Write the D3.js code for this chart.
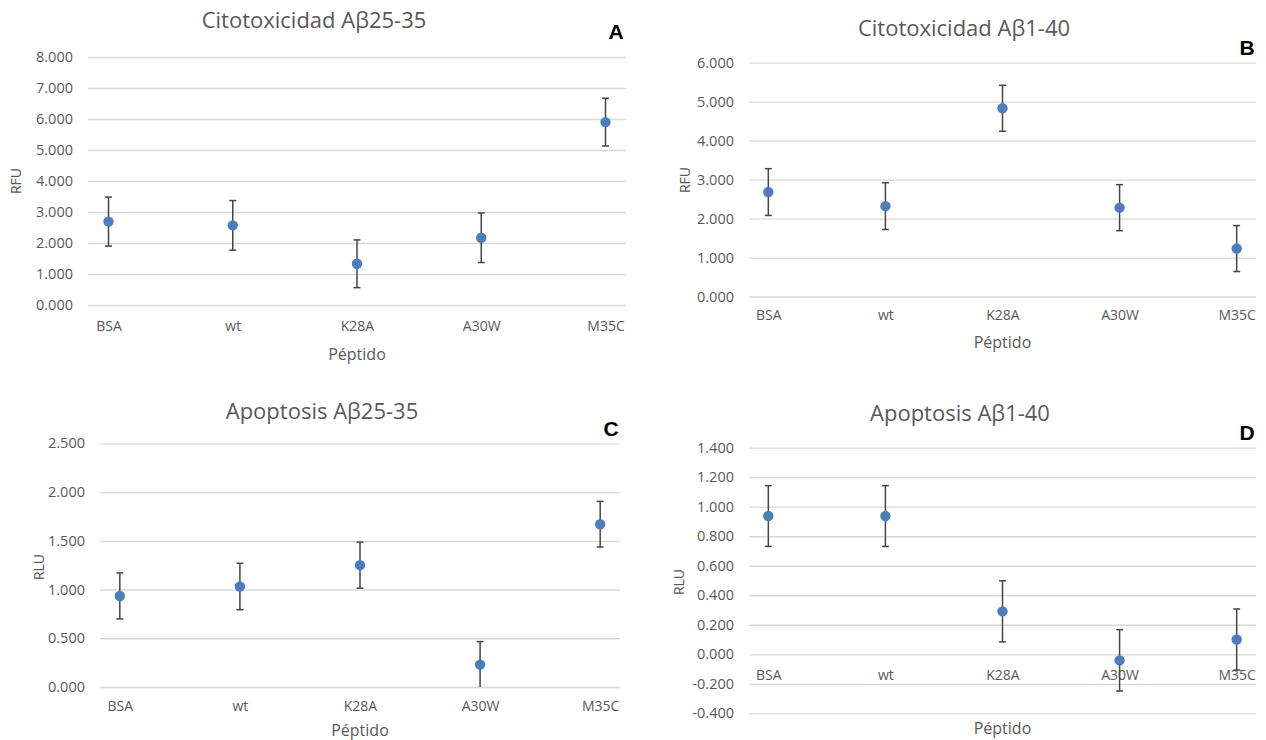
<!DOCTYPE html>
<html>
<head>
<meta charset="utf-8">
<script src="https://cdn.jsdelivr.net/npm/d3@7"></script>
<style>
  body { margin: 0; background: #fff; }
  svg { display: block; font-family: "Open Sans", sans-serif; }
</style>
</head>
<body>
<div id="fig"></div>
<script>
// categories shared by all four panels
var peptides = ["BSA", "wt", "K28A", "A30W", "M35C"];

// A - Citotoxicidad Ab25-35 (RFU)
var citoA = [2.69, 2.57, 1.33, 2.17, 5.90];
var citoAErr = [0.79, 0.80, 0.77, 0.80, 0.77];
// B - Citotoxicidad Ab1-40 (RFU)
var citoB = [2.68, 2.32, 4.83, 2.28, 1.23];
var citoBErr = [0.60, 0.60, 0.59, 0.59, 0.59];
// C - Apoptosis Ab25-35 (RLU)
var apoC = [0.934, 1.031, 1.250, 0.230, 1.670];
var apoCErr = [0.236, 0.238, 0.236, 0.236, 0.234];
// D - Apoptosis Ab1-40 (RLU)
var apoD = [0.937, 0.937, 0.291, -0.041, 0.100];
var apoDErr = [0.206, 0.206, 0.207, 0.208, 0.207];

var width = 1266, height = 740;
var svg = d3.select("#fig").append("svg")
    .attr("width", width)
    .attr("height", height);

var loc = d3.formatLocale({decimal: ".", thousands: ",", grouping: [3], currency: ["", ""], minus: "-"});
var fmt = loc.format(".3f");

var textCol = "#595959";
var dotCol = "#4a7ebf";
var errCol = "#454545";

function panel(cfg) {
    var g = svg.append("g");

    var x = d3.scalePoint()
        .domain(peptides)
        .range([cfg.x0, cfg.x1])
        .padding(0.165);
    var y = d3.scaleLinear()
        .domain(cfg.domain)
        .range([cfg.yBottom, cfg.yTop]);

    var ticks = d3.range(cfg.domain[0], cfg.domain[1] + cfg.step / 2, cfg.step);

    // gridlines + tick labels
    var yAxis = d3.axisLeft(y)
        .tickValues(ticks)
        .tickSize(-(cfg.x1 - cfg.x0))
        .tickPadding(15)
        .tickFormat(fmt);
    var ga = g.append("g")
        .attr("transform", "translate(" + cfg.x0 + ",0)")
        .call(yAxis);
    ga.select(".domain").remove();
    ga.selectAll(".tick line").attr("stroke", "#d9d9d9").attr("stroke-width", 1.3);
    ga.selectAll(".tick text")
        .attr("fill", textCol)
        .style("font-size", "14.5px")
        .style("font-family", "'Open Sans', sans-serif");

    var xAxis = d3.axisBottom(x).tickSize(0).tickPadding(cfg.xPad);
    var gx = g.append("g")
        .attr("transform", "translate(0," + y(0) + ")")
        .call(xAxis);
    gx.select(".domain").remove();
    gx.selectAll(".tick text")
        .attr("fill", textCol)
        .style("font-size", "14px")
        .style("font-family", "'Open Sans', sans-serif");

    var rows = peptides.map(function(p, i) {
        return {p: p, v: cfg.values[i], e: cfg.errs[i]};
    });

    var lo = cfg.domain[0], hi = cfg.domain[1];
    function clamp(v) { return Math.max(lo, Math.min(hi, v)); }

    // error bars
    var eb = g.append("g").selectAll("g")
        .data(rows)
        .enter().append("g")
        .attr("stroke", errCol)
        .attr("stroke-width", 1.5);
    eb.append("line")
        .attr("x1", d => x(d.p)).attr("x2", d => x(d.p))
        .attr("y1", d => y(clamp(d.v + d.e)))
        .attr("y2", d => y(clamp(d.v - d.e)));
    eb.append("line")
        .attr("x1", d => x(d.p) - 3.5).attr("x2", d => x(d.p) + 3.5)
        .attr("y1", d => y(d.v + d.e)).attr("y2", d => y(d.v + d.e));
    eb.filter(d => d.v - d.e >= lo).append("line")
        .attr("x1", d => x(d.p) - 3.5).attr("x2", d => x(d.p) + 3.5)
        .attr("y1", d => y(d.v - d.e)).attr("y2", d => y(d.v - d.e));

    g.append("g").selectAll("circle")
        .data(rows)
        .enter().append("circle")
        .attr("cx", d => x(d.p))
        .attr("cy", d => y(d.v))
        .attr("r", 5.2)
        .attr("fill", dotCol);

    // titles
    g.append("text")
        .attr("x", cfg.titleX).attr("y", cfg.titleY)
        .attr("text-anchor", "middle")
        .attr("dy", "0.35em")
        .attr("fill", textCol)
        .style("font-size", "22px")
        .text(cfg.title);

    g.append("text")
        .attr("x", cfg.letterX).attr("y", cfg.letterY)
        .attr("text-anchor", "middle")
        .attr("dy", "0.35em")
        .attr("fill", "#000")
        .style("font-family", "'Liberation Sans', Arial, sans-serif")
        .style("font-weight", "bold")
        .style("font-size", "21px")
        .text(cfg.letter);

    g.append("text")
        .attr("transform", "translate(" + cfg.yLabX + "," + cfg.yLabY + ") rotate(-90)")
        .attr("text-anchor", "middle")
        .attr("dy", "0.35em")
        .attr("fill", textCol)
        .style("font-size", "14px")
        .text(cfg.yLabel);

    g.append("text")
        .attr("x", (cfg.x0 + cfg.x1) / 2).attr("y", cfg.xLabY)
        .attr("text-anchor", "middle")
        .attr("dy", "0.35em")
        .attr("fill", textCol)
        .style("font-size", "16px")
        .text("Péptido");
}

panel({
    values: citoA, errs: citoAErr, domain: [0, 8], step: 1,
    x0: 88, x1: 626, yBottom: 305, yTop: 57, xPad: 16,
    title: "Citotoxicidad Aβ25-35", titleX: 314, titleY: 20,
    letter: "A", letterX: 616, letterY: 32,
    yLabel: "RFU", yLabX: 16, yLabY: 181, xLabY: 354
});
panel({
    values: citoB, errs: citoBErr, domain: [0, 6], step: 1,
    x0: 749, x1: 1256, yBottom: 296.5, yTop: 62.7, xPad: 14,
    title: "Citotoxicidad Aβ1-40", titleX: 964, titleY: 28,
    letter: "B", letterX: 1247, letterY: 48,
    yLabel: "RFU", yLabX: 685, yLabY: 180, xLabY: 342
});
panel({
    values: apoC, errs: apoCErr, domain: [0, 2.5], step: 0.5,
    x0: 100, x1: 620, yBottom: 687, yTop: 443.3, xPad: 14,
    title: "Apoptosis Aβ25-35", titleX: 322, titleY: 411,
    letter: "C", letterX: 611, letterY: 429,
    yLabel: "RLU", yLabX: 39, yLabY: 567, xLabY: 730
});
panel({
    values: apoD, errs: apoDErr, domain: [-0.4, 1.4], step: 0.2,
    x0: 749, x1: 1256, yBottom: 713.3, yTop: 447.7, xPad: 16,
    title: "Apoptosis Aβ1-40", titleX: 960, titleY: 413,
    letter: "D", letterX: 1247, letterY: 433,
    yLabel: "RLU", yLabX: 679, yLabY: 582, xLabY: 728
});
</script>
</body>
</html>
